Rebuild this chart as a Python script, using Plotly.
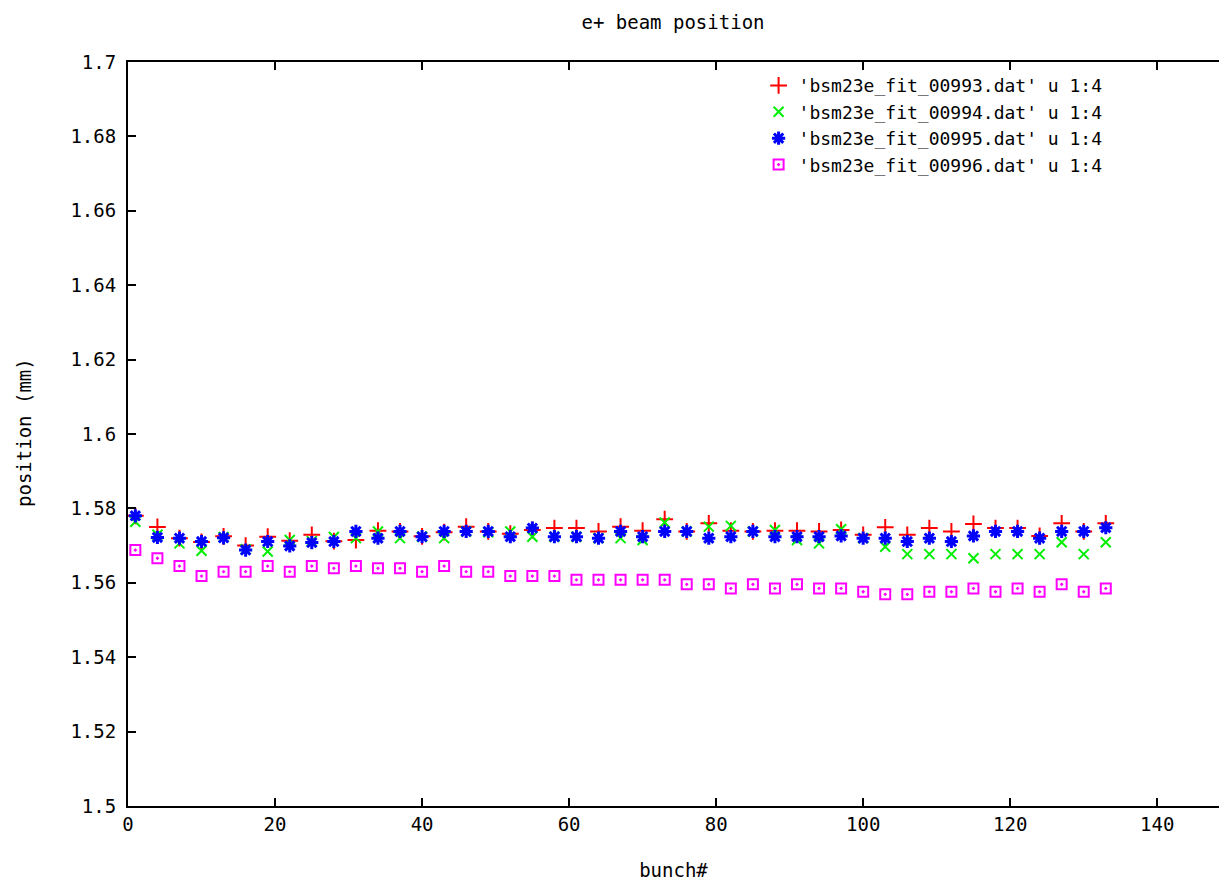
import plotly.graph_objects as go

bunch = [1, 4, 7, 10, 13, 16, 19, 22, 25, 28, 31, 34, 37, 40, 43, 46, 49, 52, 55, 58, 61, 64, 67,
         70, 73, 76, 79, 82, 85, 88, 91, 94, 97, 100, 103, 106, 109, 112, 115, 118, 121, 124, 127, 130, 133]

pos_993 = [1.578, 1.575, 1.572, 1.571, 1.5725, 1.570, 1.5724, 1.5713, 1.5729, 1.5712, 1.5715, 1.574,
           1.5738, 1.5725, 1.5736, 1.5751, 1.5738, 1.5732, 1.5742, 1.5747, 1.5747, 1.5738, 1.5751,
           1.574, 1.5771, 1.5738, 1.576, 1.574, 1.5738, 1.574, 1.574, 1.5738, 1.5742, 1.5729,
           1.5749, 1.5729, 1.5747, 1.5738, 1.5758, 1.5747, 1.5747, 1.5726, 1.576, 1.5738, 1.576]
pos_994 = [1.5764, 1.5729, 1.5706, 1.5686, 1.5723, 1.569, 1.5684, 1.5715, 1.5712, 1.5723, 1.572, 1.5738,
           1.572, 1.5724, 1.572, 1.5738, 1.5736, 1.5738, 1.5724, 1.5724, 1.5724, 1.572, 1.572,
           1.5715, 1.5762, 1.5738, 1.5751, 1.5753, 1.5738, 1.5742, 1.5715, 1.5706, 1.5744, 1.572,
           1.5697, 1.5677, 1.5677, 1.5677, 1.5666, 1.5677, 1.5677, 1.5677, 1.5709, 1.5677, 1.5709]
pos_995 = [1.578, 1.5722, 1.572, 1.5711, 1.5721, 1.5688, 1.5711, 1.5699, 1.5708, 1.5711, 1.5738, 1.572,
           1.5738, 1.5724, 1.5738, 1.5738, 1.5738, 1.5724, 1.5747, 1.5724, 1.5724, 1.572, 1.5738,
           1.5724, 1.5738, 1.5738, 1.572, 1.5724, 1.5738, 1.5724, 1.5724, 1.5724, 1.5726, 1.572,
           1.572, 1.5711, 1.572, 1.5711, 1.5726, 1.5738, 1.5738, 1.572, 1.5738, 1.5738, 1.5748]
pos_996 = [1.5688, 1.5666, 1.5645, 1.5618, 1.563, 1.563, 1.5645, 1.563, 1.5645, 1.5639, 1.5645, 1.5639,
           1.5639, 1.563, 1.5645, 1.563, 1.563, 1.5618, 1.5618, 1.5618, 1.5608, 1.5608, 1.5608,
           1.5608, 1.5608, 1.5596, 1.5596, 1.5585, 1.5596, 1.5585, 1.5596, 1.5585, 1.5585, 1.5576,
           1.5569, 1.5569, 1.5576, 1.5576, 1.5585, 1.5576, 1.5585, 1.5576, 1.5596, 1.5576, 1.5585]

names = ["'bsm23e_fit_00993.dat' u 1:4", "'bsm23e_fit_00994.dat' u 1:4",
         "'bsm23e_fit_00995.dat' u 1:4", "'bsm23e_fit_00996.dat' u 1:4"]

FONT = "DejaVu Sans Mono"

fig = go.Figure()
fig.add_trace(go.Scatter(x=bunch, y=pos_993, mode="markers", name=names[0],
                         marker=dict(symbol="cross-thin-open", size=12, color="#ff0000",
                                     line=dict(width=2, color="#ff0000"))))
fig.add_trace(go.Scatter(x=bunch, y=pos_994, mode="markers", name=names[1],
                         marker=dict(symbol="x-thin-open", size=10, color="#00ee00",
                                     line=dict(width=2, color="#00ee00"))))
fig.add_trace(go.Scatter(x=bunch, y=pos_995, mode="markers", name=names[2],
                         marker=dict(symbol="asterisk-open", size=11, color="#0000ff",
                                     line=dict(width=3, color="#0000ff"))))
fig.add_trace(go.Scatter(x=bunch, y=pos_996, mode="markers", name=names[3],
                         marker=dict(symbol="square-open-dot", size=10, color="#ff00ff",
                                     line=dict(width=2, color="#ff00ff"))))

fig.update_layout(
    width=1219, height=882,
    margin=dict(l=128, r=0, t=62, b=76),
    paper_bgcolor="white", plot_bgcolor="white",
    font=dict(family=FONT, size=19, color="black"),
    showlegend=True,
    legend=dict(x=0.578, y=0.993, xanchor="left", yanchor="top",
                bgcolor="rgba(0,0,0,0)", font=dict(family=FONT, size=18),
                tracegroupgap=0, itemwidth=30),
    title=dict(text="e+ beam position", x=(673 / 1219), xanchor="center",
               y=1 - 22 / 882, yanchor="middle", font=dict(family=FONT, size=19)),
    xaxis=dict(range=[0, 148.4], tick0=0, dtick=20, ticks="inside", ticklen=8, tickwidth=2,
               tickcolor="black", showline=True, linewidth=2, linecolor="black",
               mirror="ticks", showgrid=False, zeroline=False,
               title=dict(text="bunch#", standoff=30, font=dict(family=FONT, size=19))),
    yaxis=dict(range=[1.5, 1.7], tick0=1.5, dtick=0.02, ticks="inside", ticklen=8, tickwidth=2,
               tickcolor="black", showline=True, linewidth=2, linecolor="black",
               showgrid=False, zeroline=False, ticklabelstandoff=6),
    yaxis2=dict(range=[1.5, 1.7], tick0=1.5, dtick=0.02, overlaying="y", side="right",
                ticks="inside", ticklen=6, tickwidth=2, tickcolor="#888888",
                showline=False, showgrid=False, zeroline=False, showticklabels=False),
)

fig.add_annotation(text="position (mm)", textangle=-90, xref="paper", yref="paper",
                   x=(24 - 128) / 1091, y=(806 - 433) / 744, xanchor="center", yanchor="middle",
                   showarrow=False, font=dict(family=FONT, size=19, color="black"))

fig.write_html("out.html", config={"displayModeBar": False},
               post_script="document.body.style.margin='0';document.body.style.overflow='hidden';")
